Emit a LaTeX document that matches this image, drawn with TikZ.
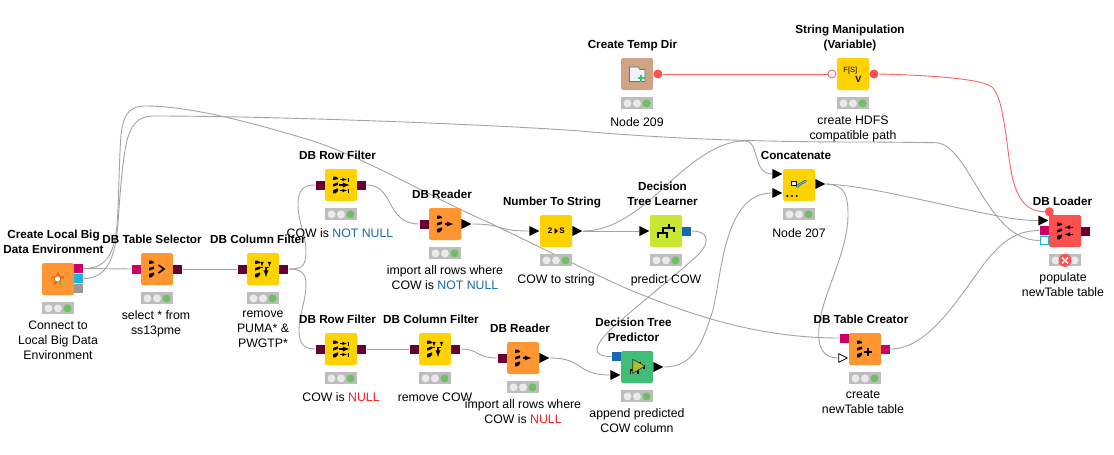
\documentclass[tikz,border=0pt]{standalone}
\usepackage{fontspec}
\setmainfont{Liberation Sans}
\usetikzlibrary{positioning,shapes.geometric,backgrounds}

\definecolor{knOrange}{HTML}{FF9632}
\definecolor{knYellow}{HTML}{FFD200}
\definecolor{knLime}{HTML}{C8E632}
\definecolor{knGreen}{HTML}{40BE78}
\definecolor{knTan}{HTML}{CFA384}
\definecolor{knRed}{HTML}{FF5050}
\definecolor{knMaroon}{HTML}{660033}
\definecolor{knPink}{HTML}{CC0066}
\definecolor{knCyan}{HTML}{1EB4DC}
\definecolor{knBlue}{HTML}{1468B4}
\definecolor{knLamp}{HTML}{BDBDBD}
\definecolor{knDot}{HTML}{EAEAEA}
\definecolor{knOk}{HTML}{6CC060}

\tikzset{
  icon/.style={rounded corners=1.5pt, minimum size=32pt, inner sep=0pt},
  orangebox/.style={icon, fill=knOrange},
  yellowbox/.style={icon, fill=knYellow},
  port/.style={minimum size=9pt, inner sep=0pt},
  dbport/.style={port, fill=knMaroon},
  pinkport/.style={port, fill=knPink},
  blueport/.style={port, fill=knBlue},
  tabport/.style={isosceles triangle, isosceles triangle stretches, inner sep=0pt,
    minimum height=10pt, minimum width=10pt, fill=black},
  varport/.style={circle, minimum size=9pt, inner sep=0pt, fill=knRed},
  lamp/.style={minimum width=32pt, minimum height=12pt, inner sep=0pt, fill=knLamp},
  lampdot/.style={circle, minimum size=8pt, inner sep=0pt, fill=knDot},
  kntitle/.style={font=\bfseries\fontsize{11.7}{15}\selectfont, align=center, inner sep=0pt,
    execute at begin node=\strut, execute at end node=\strut},
  kncaption/.style={font=\fontsize{12.3}{15}\selectfont, align=center, inner sep=0pt,
    execute at begin node=\strut, execute at end node=\strut},
  wire/.style={draw=black!36, line width=0.9pt},
  redwire/.style={draw=knRed!90, line width=0.9pt},
  dbbars/.pic={
    \fill (-8,-8.5) -- (-5.5,-8.5) -- (-3,-7) -- (-3,-5.8) -- (-8,-5) -- cycle;
    \fill (-8,-1) -- (-3,-2.6) -- (-3,0) -- (-8,1.6) -- cycle;
    \fill (-8,5) -- (-3,3.4) -- (-3,6) -- (-5.5,8.3) -- (-8,8.3) -- cycle;
  },
  treeglyph/.pic={
    \draw[line width=1.9pt] (3.3,-7) -- (3.3,-2.7) (8,1.3) -- (8,-2.7) -- (-3.3,-2.7) -- (-3.3,2.3)
      (-7.7,7.3) -- (-7.7,2.3) -- (0.7,2.3) -- (0.7,7.3);
  },
}

\begin{document}
\begin{tikzpicture}[x=1pt, y=-1pt]
  \useasboundingbox (0,0) rectangle (1114,455);

  \node[orangebox] (env) at (58,279) {};
  \node[orangebox] (sel) at (157,269) {};
  \node[yellowbox] (cfa) at (263,269) {};
  \node[yellowbox] (rfa) at (341,185) {};
  \node[yellowbox] (rfb) at (341,349) {};
  \node[yellowbox] (cfb) at (435,349) {};
  \node[orangebox] (rda) at (445,224) {};
  \node[orangebox] (rdb) at (523,358) {};
  \node[yellowbox] (ns) at (556,231) {};
  \node[icon, fill=knLime] (dtl) at (666,231) {};
  \node[icon, fill=knGreen] (dtp) at (637,367) {};
  \node[yellowbox] (cta) at (799,185) {};
  \node[orangebox] (ctr) at (865,349) {};
  \node[icon, fill=knRed] (lod) at (1065,231) {};
  \node[icon, fill=knTan] (tmp) at (637,74) {};
  \node[yellowbox] (sm) at (853,74) {};

  \node[pinkport, right=0pt of env, yshift=10.5pt] (env-db) {};
  \node[port, fill=knCyan, right=0pt of env, yshift=0.5pt] (env-fs) {};
  \node[port, fill=black!40, right=0pt of env, yshift=-9.5pt] (env-sp) {};
  \node[pinkport, left=0pt of sel] (sel-in) {};
  \node[dbport, right=0pt of sel] (sel-out) {};
  \node[dbport, left=0pt of cfa] (cfa-in) {};
  \node[dbport, right=0pt of cfa] (cfa-out) {};
  \node[dbport, left=0pt of rfa] (rfa-in) {};
  \node[dbport, right=0pt of rfa] (rfa-out) {};
  \node[dbport, left=0pt of rfb] (rfb-in) {};
  \node[dbport, right=0pt of rfb] (rfb-out) {};
  \node[dbport, left=0pt of cfb] (cfb-in) {};
  \node[dbport, right=0pt of cfb] (cfb-out) {};
  \node[dbport, left=0pt of rda] (rda-in) {};
  \node[tabport, right=0pt of rda] (rda-out) {};
  \node[dbport, left=0pt of rdb] (rdb-in) {};
  \node[tabport, right=0pt of rdb] (rdb-out) {};
  \node[tabport, left=0pt of ns] (ns-in) {};
  \node[tabport, right=0pt of ns] (ns-out) {};
  \node[tabport, left=0pt of dtl] (dtl-in) {};
  \node[blueport, right=0pt of dtl] (dtl-out) {};
  \node[blueport, left=0pt of dtp, yshift=10.5pt] (dtp-model) {};
  \node[tabport, left=0pt of dtp, yshift=-8pt] (dtp-in) {};
  \node[tabport, right=0pt of dtp] (dtp-out) {};
  \node[tabport, left=0pt of cta, yshift=11pt] (cta-a) {};
  \node[tabport, left=0pt of cta, yshift=-8pt] (cta-b) {};
  \node[tabport, right=0pt of cta, yshift=1pt] (cta-out) {};
  \node[pinkport, left=0pt of ctr, yshift=11pt] (ctr-db) {};
  \node[tabport, fill=white, draw=black, line width=0.8pt, minimum height=8.5pt, minimum width=8.5pt,
    left=0.5pt of ctr, yshift=-9pt] (ctr-tab) {};
  \node[pinkport, right=0pt of ctr] (ctr-out) {};
  \node[tabport, left=0pt of lod, yshift=10.5pt] (lod-tab) {};
  \node[pinkport, left=0pt of lod, yshift=0.5pt] (lod-db) {};
  \node[port, fill=white, draw=knCyan, line width=0.8pt, minimum size=8pt,
    left=0.5pt of lod, yshift=-9.5pt] (lod-fs) {};
  \node[dbport, right=0pt of lod] (lod-out) {};
  \node[varport] (lod-var) at (1049.3,211.7) {};
  \node[varport, right=0pt of tmp] (tmp-out) {};
  \node[varport, fill=white, draw=knRed, line width=0.8pt, minimum size=8pt, left=0.5pt of sm] (sm-in) {};
  \node[varport, right=0pt of sm] (sm-out) {};

  \foreach \n in {env,sel,cfa,rfa,rfb,cfb,rda,rdb,ns,dtl,dtp,cta,ctr,tmp,sm} {
    \node[lamp, below=7pt of \n] (\n-lamp) {};
    \node[lampdot, xshift=-9.5pt] (\n-red) at (\n-lamp) {};
    \node[lampdot] (\n-amber) at (\n-lamp) {};
    \node[lampdot, fill=knOk, xshift=9.5pt] (\n-ok) at (\n-lamp) {};
  }
  \node[lamp, below=7pt of lod] (lod-lamp) {};
  \node[lampdot, xshift=-9.5pt] (lod-red) at (lod-lamp) {};
  \node[lampdot, xshift=9.5pt] (lod-ok) at (lod-lamp) {};
  \node[circle, minimum size=13pt, inner sep=0pt, fill=knRed] (lod-err) at (lod-lamp) {};
  \draw[white, line width=1.3pt] ([shift={(-3,-3)}]lod-err.center) -- ([shift={(3,3)}]lod-err.center)
    ([shift={(-3,3)}]lod-err.center) -- ([shift={(3,-3)}]lod-err.center);

  \foreach \n in {sel,cfa,rfa,rfb,cfb,rda,rdb,ctr,lod} {
    \pic at (\n) {dbbars};
  }
  \draw[line width=1.6pt] ([shift={(1.5,-4)}]sel.center) -- ([shift={(7,0)}]sel.center) -- ([shift={(1.5,4)}]sel.center);
  \foreach \n in {cfa,cfb} {
    \draw[-latex, line width=1.3pt] ([shift={(3,-2)}]\n.center) -- ([shift={(3,8)}]\n.center);
    \draw[-latex, line width=0.6pt] ([shift={(-1,-7)}]\n.center) -- ([shift={(-1,-2.5)}]\n.center);
    \draw[-latex, line width=0.6pt] ([shift={(6.5,-7)}]\n.center) -- ([shift={(6.5,-2.5)}]\n.center);
    \draw[dashed, line width=0.6pt] ([shift={(-3,-1.8)}]\n.center) -- ([shift={(8,-1.8)}]\n.center);
  }
  \foreach \n in {rfa,rfb} {
    \draw[-latex, line width=1.3pt] ([shift={(-2,0)}]\n.center) -- ([shift={(8.5,0)}]\n.center);
    \draw[-latex, line width=0.6pt] ([shift={(-1,-5.5)}]\n.center) -- ([shift={(6,-5.5)}]\n.center);
    \draw[-latex, line width=0.6pt] ([shift={(-1,5.5)}]\n.center) -- ([shift={(6,5.5)}]\n.center);
    \draw[line width=0.6pt] ([shift={(7,-7.5)}]\n.center) -- ([shift={(7,-3.5)}]\n.center)
      ([shift={(7,3.5)}]\n.center) -- ([shift={(7,7.5)}]\n.center);
  }
  \foreach \n in {rda,rdb} {
    \draw[-latex, line width=1.3pt] (\n.center) -- ([xshift=8.5pt]\n.center);
  }
  \draw[latex-, line width=0.9pt] ([shift={(-0.5,-3.7)}]lod.center) -- ([shift={(8,-3.7)}]lod.center);
  \draw[latex-, line width=0.9pt] ([shift={(-0.5,3.3)}]lod.center) -- ([shift={(8,3.3)}]lod.center);
  \draw[line width=2pt] ([shift={(-1.3,2.7)}]ctr.center) -- ([shift={(6.7,2.7)}]ctr.center)
    ([shift={(2.7,-1.3)}]ctr.center) -- ([shift={(2.7,6.7)}]ctr.center);
  \node[font=\bfseries\fontsize{8}{8}\selectfont, inner sep=0pt, xshift=-6pt] (ns-two) at (ns) {2};
  \node[font=\bfseries\fontsize{8}{8}\selectfont, inner sep=0pt, xshift=6pt] (ns-ess) at (ns) {S};
  \fill ([shift={(-1.5,-3)}]ns.center) -- ([shift={(2,0)}]ns.center) -- ([shift={(-1.5,3)}]ns.center) -- cycle;
  \pic at (dtl) {treeglyph};
  \begin{scope}[shift={(dtp.center)}]
    \pic[scale=0.85] at (0,1) {treeglyph};
    \draw[black!80, fill=knLime!85!black, line width=0.6pt] (-4.3,-7.7) -- (8,-1) -- (-4.3,6.3) -- cycle;
  \end{scope}
  \draw[fill=white, line width=0.7pt] ([shift={(-7.7,-3.7)}]cta.center) rectangle ([shift={(-2.3,0.7)}]cta.center);
  \draw[line cap=round, line width=2.4pt, black!60!knCyan] ([shift={(-2,1.5)}]cta.center) -- ([shift={(2,-1.5)}]cta.center)
    ([shift={(3,-2)}]cta.center) -- ([shift={(6.5,-4)}]cta.center);
  \draw[line cap=round, line width=1.2pt, knCyan!70!white] ([shift={(-2,1.5)}]cta.center) -- ([shift={(2,-1.5)}]cta.center)
    ([shift={(3,-2)}]cta.center) -- ([shift={(6.5,-4)}]cta.center);
  \foreach \dx in {-11.7,-7,-2.3} {
    \fill ([shift={(\dx,11)}]cta.center) circle (1.2);
  }
  \draw[draw=knBlue!60!black!70, fill=knBlue!8, line width=0.7pt, line join=round]
    ([shift={(-7.5,-7)}]tmp.center) -- ([shift={(1,-7)}]tmp.center) -- ([shift={(3,-4.5)}]tmp.center)
    -- ([shift={(8,-4.5)}]tmp.center) -- ([shift={(8,7.5)}]tmp.center) -- ([shift={(-7.5,7.5)}]tmp.center) -- cycle;
  \draw[knGreen, line width=1.5pt] ([shift={(0.5,4)}]tmp.center) -- ([shift={(7.5,4)}]tmp.center)
    ([shift={(4,0.5)}]tmp.center) -- ([shift={(4,7.5)}]tmp.center);
  \node[font=\fontsize{7.5}{8}\selectfont, inner sep=0pt] (sm-fn) at ([shift={(-2.7,-3.7)}]sm.center) {F[S]};
  \node[font=\bfseries\fontsize{9}{9}\selectfont, inner sep=0pt] (sm-vv) at ([shift={(5.3,5)}]sm.center) {V};
  \begin{scope}[shift={(env.center)}]
    \fill[knOrange!75!red!90!black] (0,-7.5) -- (2,-2.8) -- (7.2,-2.4) -- (3.2,1) -- (4.4,6) -- (0,3.4)
      -- (-4.4,6) -- (-3.2,1) -- (-7.2,-2.4) -- (-2,-2.8) -- cycle;
    \fill[white] (-0.5,0) circle (2.6);
    \draw[knLime!85!black, line width=1.4pt] (0,3.7) -- (7,3.7) (3.5,0.2) -- (3.5,7.2);
  \end{scope}

  \node[kntitle, above=5pt of env, xshift=-4.5pt] (env-title) {Create Local Big\\Data Environment};
  \node[kntitle, above=5pt of sel, xshift=-5pt] (sel-title) {DB Table Selector};
  \node[kntitle, above=5pt of cfa, xshift=-5pt] (cfa-title) {DB Column Filter};
  \node[kntitle, above=5pt of rfa, xshift=-3.5pt] (rfa-title) {DB Row Filter};
  \node[kntitle, above=5pt of rfb, xshift=-3.5pt] (rfb-title) {DB Row Filter};
  \node[kntitle, above=5pt of cfb, xshift=-4pt] (cfb-title) {DB Column Filter};
  \node[kntitle, above=5pt of rda, xshift=-3pt] (rda-title) {DB Reader};
  \node[kntitle, above=5pt of rdb, xshift=-3pt] (rdb-title) {DB Reader};
  \node[kntitle, above=5pt of ns, xshift=-4pt] (ns-title) {Number To String};
  \node[kntitle, above=5pt of dtl, xshift=-3.5pt] (dtl-title) {Decision\\Tree Learner};
  \node[kntitle, above=5pt of dtp, xshift=-3.5pt] (dtp-title) {Decision Tree\\Predictor};
  \node[kntitle, above=5pt of cta, xshift=-3pt] (cta-title) {Concatenate};
  \node[kntitle, above=5pt of ctr, xshift=-4pt] (ctr-title) {DB Table Creator};
  \node[kntitle, above=5pt of lod, xshift=-2.5pt] (lod-title) {DB Loader};
  \node[kntitle, above=5pt of tmp, xshift=-4.5pt] (tmp-title) {Create Temp Dir};
  \node[kntitle, above=5pt of sm, xshift=-3pt] (sm-title) {String Manipulation\\(Variable)};

  \node[kncaption, below=6pt of env-lamp] (env-cap) {Connect to\\Local Big Data\\Environment};
  \node[kncaption, below=6pt of sel-lamp, xshift=-1pt] (sel-cap) {select * from\\ss13pme};
  \node[kncaption, below=6pt of cfa-lamp] (cfa-cap) {remove\\PUMA* \&\\PWGTP*};
  \node[kncaption, below=6pt of rfa-lamp, xshift=-1pt] (rfa-cap) {COW is \textcolor{knBlue}{NOT NULL}};
  \node[kncaption, below=6pt of rfb-lamp] (rfb-cap) {COW is \textcolor{red!90}{NULL}};
  \node[kncaption, below=6pt of cfb-lamp] (cfb-cap) {remove COW};
  \node[kncaption, below=6pt of rda-lamp] (rda-cap) {import all rows where\\COW is \textcolor{knBlue}{NOT NULL}};
  \node[kncaption, below=6pt of rdb-lamp] (rdb-cap) {import all rows where\\COW is \textcolor{red!90}{NULL}};
  \node[kncaption, below=6pt of ns-lamp] (ns-cap) {COW to string};
  \node[kncaption, below=6pt of dtl-lamp] (dtl-cap) {predict COW};
  \node[kncaption, below=6pt of dtp-lamp] (dtp-cap) {append predicted\\COW column};
  \node[kncaption, below=6pt of cta-lamp] (cta-cap) {Node 207};
  \node[kncaption, below=6pt of ctr-lamp, xshift=-2pt] (ctr-cap) {create\\newTable table};
  \node[kncaption, below=6pt of lod-lamp, xshift=-2pt] (lod-cap) {populate\\newTable table};
  \node[kncaption, below=6pt of tmp-lamp] (tmp-cap) {Node 209};
  \node[kncaption, below=6pt of sm-lamp] (sm-cap) {create HDFS\\compatible path};

  \begin{scope}[on background layer]
    \draw[wire] (env-db.east) -- (sel-in.west);
    \draw[wire] (env-db.east) .. controls (106,268.5) and (114,255) .. (117,225)
      .. controls (119,200) and (119,160) .. (121,135)
      .. controls (123,118) and (127,106) .. (145,106)
      .. controls (190,106) and (250,122) .. (313,141)
      .. controls (370,160) and (430,197) .. (490,223)
      .. controls (550,252) and (600,277) .. (630,290)
      .. controls (680,310) and (750,338) .. (ctr-db.west);
    \draw[wire] (env-fs.east) .. controls (105,278.5) and (115,262) .. (118,223)
      .. controls (120,195) and (122,165) .. (126,145)
      .. controls (130,125) and (138,116) .. (153,116)
      .. controls (280,116) and (500,125) .. (580,131)
      .. controls (680,140) and (780,142) .. (860,142)
      .. controls (890,142) and (915,142.5) .. (935,142.7)
      .. controls (970,143) and (985,240.5) .. (lod-fs.west);
    \draw[wire] (sel-out.east) -- (cfa-in.west);
    \draw[wire] (cfa-out.east) .. controls (300,269) and (306,268) .. (306,252)
      .. controls (306,235) and (298,222) .. (298,205)
      .. controls (298,190) and (303,185) .. (rfa-in.west);
    \draw[wire] (cfa-out.east) .. controls (300,269) and (306,272) .. (306,285)
      .. controls (306,300) and (299,315) .. (299,330)
      .. controls (299,345) and (305,349) .. (rfb-in.west);
    \draw[wire] (rfa-out.east) .. controls (395,185) and (385,224) .. (rda-in.west);
    \draw[wire] (rda-out.east) .. controls (505,224) and (495,231) .. (ns-in.west);
    \draw[wire] (ns-out.east) -- (dtl-in.west);
    \draw[wire] (ns-out.east) .. controls (620,231) and (650,200) .. (680,173)
      .. controls (705,152) and (725,141) .. (745,141)
      .. controls (760,141) and (752,174) .. (cta-a.west);
    \draw[wire] (dtl-out.east) .. controls (705,231) and (712,238) .. (700,253)
      .. controls (680,272) and (640,303) .. (610,330)
      .. controls (595,345) and (590,356.5) .. (dtp-model.west);
    \draw[wire] (rfb-out.east) -- (cfb-in.west);
    \draw[wire] (cfb-out.east) .. controls (480,349) and (475,358) .. (rdb-in.west);
    \draw[wire] (rdb-out.east) .. controls (585,358) and (575,375) .. (dtp-in.west);
    \draw[wire] (dtp-out.east) .. controls (695,367) and (703,340) .. (712,313)
      .. controls (722,280) and (722,193) .. (cta-b.west);
    \draw[wire] (cta-out.east) .. controls (870,186) and (940,205) .. (993,215)
      .. controls (1012,219) and (1025,220.5) .. (lod-tab.west);
    \draw[wire] (cta-out.east) .. controls (845,185) and (848,195) .. (848,215)
      .. controls (848,250) and (825,290) .. (820,320)
      .. controls (815,350) and (825,358) .. (ctr-tab.west);
    \draw[wire] (ctr-out.east) .. controls (930,349) and (960,295) .. (987,260)
      .. controls (1005,238) and (1020,230.5) .. (lod-db.west);
    \draw[redwire] (tmp-out.east) -- (sm-in.west);
    \draw[redwire] (sm-out.east) .. controls (920,75) and (985,78) .. (993,88)
      .. controls (1000,97) and (1002,110) .. (1006,135)
      .. controls (1011,170) and (1012,211.7) .. (lod-var.west);
  \end{scope}
\end{tikzpicture}
\end{document}
